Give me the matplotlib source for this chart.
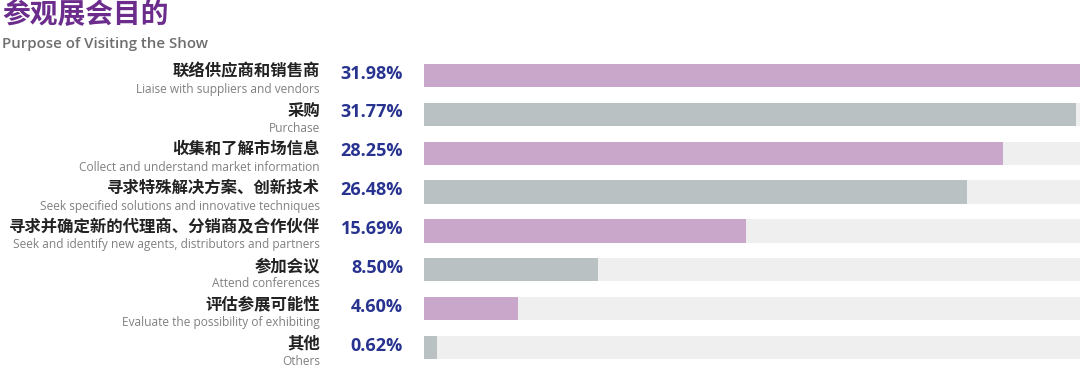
import matplotlib
matplotlib.use("Agg")
import matplotlib.pyplot as plt
import matplotlib.transforms as mtransforms

plt.rcParams['font.family'] = ['Noto Sans CJK SC', 'DejaVu Sans']

# 数据
labels_cn = ["联络供应商和销售商", "采购", "收集和了解市场信息", "寻求特殊解决方案、创新技术",
             "寻求并确定新的代理商、分销商及合作伙伴", "参加会议", "评估参展可能性", "其他"]
labels_en = ["Liaise with suppliers and vendors", "Purchase", "Collect and understand market information",
             "Seek specified solutions and innovative techniques",
             "Seek and identify new agents, distributors and partners", "Attend conferences",
             "Evaluate the possibility of exhibiting", "Others"]
valores = [31.98, 31.77, 28.25, 26.48, 15.69, 8.50, 4.60, 0.62]

morado = "#c9a7cb"
gris = "#b9c1c3"
fondo = "#efefef"

fig = plt.figure(figsize=(10.8, 3.72), dpi=100)
ax = fig.add_axes([424 / 1080, 1 - 366.9 / 372, 1 - 424 / 1080, (366.9 - 56.1) / 372])

n = len(valores)
ys = list(range(n))
colores = [morado if i % 2 == 0 else gris for i in range(n)]
maximo = max(valores)

ax.barh(ys, [maximo] * n, height=0.6, color=fondo, zorder=1)
ax.barh(ys, valores, height=0.6, color=colores, zorder=2)
ax.set_xlim(0, maximo)
ax.set_ylim(n - 0.5, -0.5)
ax.axis("off")

trans = mtransforms.blended_transform_factory(fig.transFigure, ax.transData)
for i in range(n):
    ax.text(320 / 1080, i - 0.1, labels_cn[i], transform=trans, ha="right", va="center",
            fontsize=11.8, fontweight="bold", color="#222222")
    ax.text(320 / 1080, i + 0.36, labels_en[i], transform=trans, ha="right", va="center",
            fontsize=8.6, color="#808080", family=["Open Sans", "DejaVu Sans"])
    ax.text(403 / 1080, i - 0.05, f"{valores[i]:.2f}%", transform=trans, ha="right", va="center",
            fontsize=13, fontweight="bold", color="#27338f", family=["Open Sans", "DejaVu Sans"])

fig.text(2 / 1080, 1 - 15 / 372, "参观展会目的", ha="left", va="center",
         fontsize=20, fontweight="bold", color="#6b2c8c")
fig.text(2 / 1080, 1 - 44 / 372, "Purpose of Visiting the Show", ha="left", va="center",
         fontsize=10.8, fontweight="semibold", color="#6e6e6e", family=["Open Sans", "DejaVu Sans"])

fig.savefig("out.png", dpi=100, facecolor="white")
